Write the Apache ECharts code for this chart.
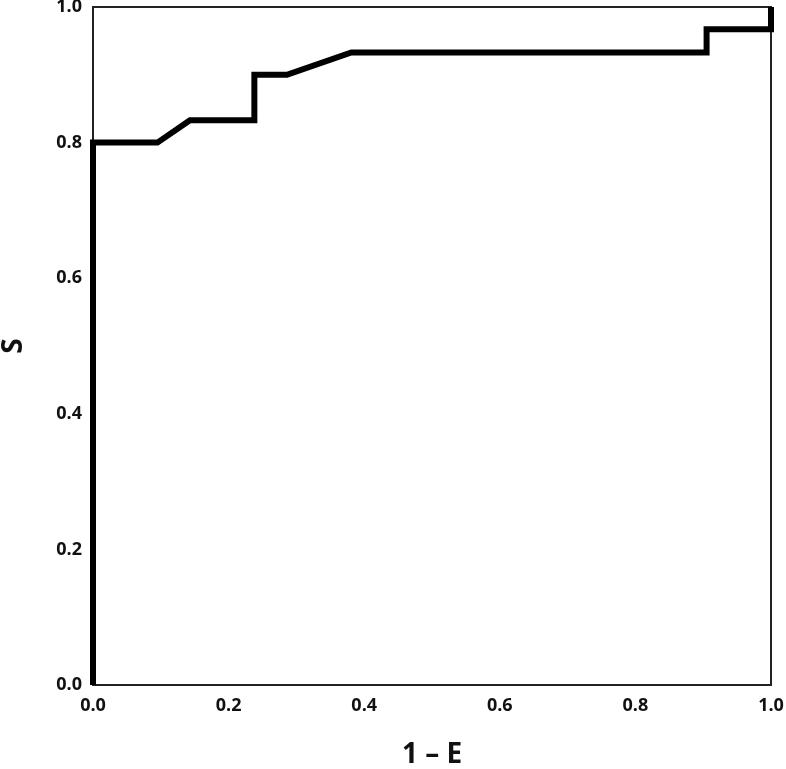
<!DOCTYPE html>
<html>
<head>
<meta charset="utf-8">
<script src="https://cdn.jsdelivr.net/npm/echarts@6/dist/echarts.min.js"></script>
<style>
  html, body { margin: 0; padding: 0; background: #fff; }
  #chart { width: 786px; height: 769px; }
</style>
</head>
<body>
<div id="chart"></div>
<script>
// ROC curve points (1 - E, S)
const oneMinusE = [0, 0, 0.095, 0.143, 0.238, 0.238, 0.286, 0.381, 0.905, 0.905, 1.0, 1.0]
const sens = [0, 0.8, 0.8, 0.833, 0.833, 0.9, 0.9, 0.933, 0.933, 0.967, 0.967, 1.0]

const font = '"Open Sans", "DejaVu Sans", sans-serif'
const chart = echarts.init(document.getElementById('chart'))

chart.setOption({
  animation: false,
  grid: {
    left: 93,
    right: 15,
    top: 7,
    bottom: 84,
    outerBoundsMode: 'none',
    containLabel: false,
    show: true,
    borderColor: '#222',
    borderWidth: 2
  },
  xAxis: {
    type: 'value',
    min: 0,
    max: 1,
    interval: 0.2,
    name: '1 – E',
    nameLocation: 'middle',
    nameGap: 56,
    nameTextStyle: { fontFamily: font, fontWeight: 'bold', fontSize: 28, color: '#111' },
    axisLine: { show: true, lineStyle: { color: '#222', width: 2 } },
    axisTick: { show: false },
    splitLine: { show: false },
    axisLabel: {
      fontFamily: font, fontWeight: 'bold', fontSize: 18, color: '#111', margin: 12,
      formatter: v => v.toFixed(1)
    }
  },
  yAxis: {
    type: 'value',
    min: 0,
    max: 1,
    interval: 0.2,
    name: 'S',
    nameLocation: 'middle',
    nameRotate: 90,
    nameGap: 65,
    nameTextStyle: { fontFamily: font, fontWeight: 'bold', fontSize: 28, color: '#111' },
    axisLine: { show: true, lineStyle: { color: '#222', width: 2 } },
    axisTick: { show: false },
    splitLine: { show: false },
    axisLabel: {
      fontFamily: font, fontWeight: 'bold', fontSize: 18, color: '#111', margin: 11,
      formatter: v => v.toFixed(1)
    }
  },
  series: [
    {
      type: 'line',
      data: oneMinusE.map((x, i) => [x, sens[i]]),
      showSymbol: false,
      clip: false,
      lineStyle: { color: '#000', width: 6, join: 'miter', cap: 'butt' }
    }
  ]
})
</script>
</body>
</html>
